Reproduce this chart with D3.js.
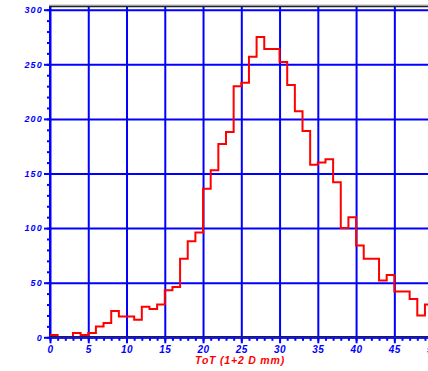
<!DOCTYPE html>
<html>
<head>
<meta charset="utf-8">
<script src="https://cdn.jsdelivr.net/npm/d3@7"></script>
<style>
  html, body { margin: 0; padding: 0; background: #fff; overflow: hidden; }
  svg { display: block; }
</style>
</head>
<body>
<div id="container"></div>
<script>
const width = 428;
const height = 371;

// histogram counts, one per unit bin starting at 0
const binStarts = d3.range(0, 50);
const counts = [2, 0, 0, 4, 2, 4, 10, 13, 24, 19,
                19, 16, 28, 26, 30, 43, 46, 72, 88, 96,
                136, 153, 177, 188, 230, 233, 257, 275, 264, 264,
                252, 231, 207, 189, 158, 160, 163, 142, 100, 110,
                84, 72, 72, 52, 57, 42, 42, 35, 20, 30];
const xTicks = [0, 5, 10, 15, 20, 25, 30, 35, 40, 45, 50];
const yTicks = [0, 50, 100, 150, 200, 250, 300];
const xTitle = "ToT (1+2 D mm)";

const plotLeft = 50, plotBottom = 337.3, plotTop = 9.7, frameTop = 6.5;

const x = d3.scaleLinear().domain([0, 50]).range([plotLeft, 432.6]);
const y = d3.scaleLinear().domain([0, 300]).range([plotBottom, plotTop]);

const svg = d3.select("div#container")
    .append("svg")
    .attr("width", width)
    .attr("height", height)
    .attr("viewBox", [0, 0, width, height]);

const blue = "#0000ff";

// grid
svg.append("g")
    .attr("transform", `translate(0,${plotBottom})`)
    .call(d3.axisBottom(x).tickValues(xTicks).tickSize(-(plotBottom - frameTop)).tickFormat(""))
    .call(g => g.select(".domain").remove())
    .call(g => g.selectAll("line").attr("stroke", blue).attr("stroke-width", 2));

svg.append("g")
    .attr("transform", `translate(${plotLeft},0)`)
    .call(d3.axisLeft(y).tickValues(yTicks).tickSize(-(width - plotLeft)).tickFormat(""))
    .call(g => g.select(".domain").remove())
    .call(g => g.selectAll("line").attr("stroke", blue).attr("stroke-width", 2));

// minor ticks
svg.append("g")
    .attr("transform", `translate(0,${plotBottom})`)
    .call(d3.axisBottom(x).tickValues(d3.range(0, 51)).tickSize(3.5).tickSizeOuter(0).tickFormat(""))
    .call(g => g.select(".domain").remove())
    .call(g => g.selectAll("line").attr("stroke", blue).attr("stroke-width", 2));

svg.append("g")
    .attr("transform", `translate(${plotLeft},0)`)
    .call(d3.axisLeft(y).tickValues(d3.range(0, 301, 10)).tickSize(3).tickSizeOuter(0).tickFormat(""))
    .call(g => g.select(".domain").remove())
    .call(g => g.selectAll("line").attr("stroke", blue).attr("stroke-width", 2));

// major ticks with labels
svg.append("g")
    .attr("transform", `translate(0,${plotBottom})`)
    .call(d3.axisBottom(x).tickValues(xTicks).tickSize(6).tickSizeOuter(0).tickPadding(3))
    .call(g => g.select(".domain").remove())
    .call(g => g.selectAll("line").attr("stroke", blue).attr("stroke-width", 2))
    .call(g => g.selectAll("text")
        .attr("fill", blue)
        .attr("font-family", "Liberation Sans, sans-serif")
        .attr("font-style", "italic")
        .attr("font-weight", "bold")
        .attr("font-size", 10)
        .attr("letter-spacing", 0.5));

svg.append("g")
    .attr("transform", `translate(${plotLeft},0)`)
    .call(d3.axisLeft(y).tickValues(yTicks).tickSize(6).tickSizeOuter(0).tickPadding(1))
    .call(g => g.select(".domain").remove())
    .call(g => g.selectAll("line").attr("stroke", blue).attr("stroke-width", 2))
    .call(g => g.selectAll("text")
        .attr("fill", blue)
        .attr("font-family", "Liberation Sans, sans-serif")
        .attr("font-style", "italic")
        .attr("font-weight", "bold")
        .attr("font-size", 9)
        .attr("letter-spacing", 1.2));

// frame: left axis, top black line, bottom axis
svg.append("line")
    .attr("x1", plotLeft).attr("x2", plotLeft)
    .attr("y1", frameTop).attr("y2", plotBottom)
    .attr("stroke", blue).attr("stroke-width", 2);

svg.append("line")
    .attr("x1", plotLeft - 1).attr("x2", width)
    .attr("y1", frameTop - 1.3).attr("y2", frameTop - 1.3)
    .attr("stroke", "#b8b8b8").attr("stroke-width", 1.2);
svg.append("line")
    .attr("x1", plotLeft - 1).attr("x2", width)
    .attr("y1", frameTop).attr("y2", frameTop)
    .attr("stroke", "#222").attr("stroke-width", 1.4);

// histogram outline
const pts = [];
binStarts.forEach((b, i) => {
    pts.push([b, counts[i]]);
    pts.push([b + 1, counts[i]]);
});

svg.append("path")
    .datum(pts)
    .attr("fill", "none")
    .attr("stroke", "#ff0000")
    .attr("stroke-width", 2)
    .attr("d", d3.line().x(d => x(d[0])).y(d => y(d[1])));

svg.append("line")
    .attr("x1", plotLeft).attr("x2", width)
    .attr("y1", plotBottom).attr("y2", plotBottom)
    .attr("stroke", blue).attr("stroke-width", 2.5);
svg.append("line")
    .attr("x1", plotLeft).attr("x2", width)
    .attr("y1", plotBottom).attr("y2", plotBottom)
    .attr("stroke", "#333").attr("stroke-width", 1);

// x title
svg.append("text")
    .attr("x", 240)
    .attr("y", 364)
    .attr("text-anchor", "middle")
    .attr("fill", "#ff0000")
    .attr("font-family", "Liberation Sans, sans-serif")
    .attr("font-style", "italic")
    .attr("font-weight", "bold")
    .attr("font-size", 10.5)
    .attr("letter-spacing", 0.8)
    .text(xTitle);
</script>
</body>
</html>
